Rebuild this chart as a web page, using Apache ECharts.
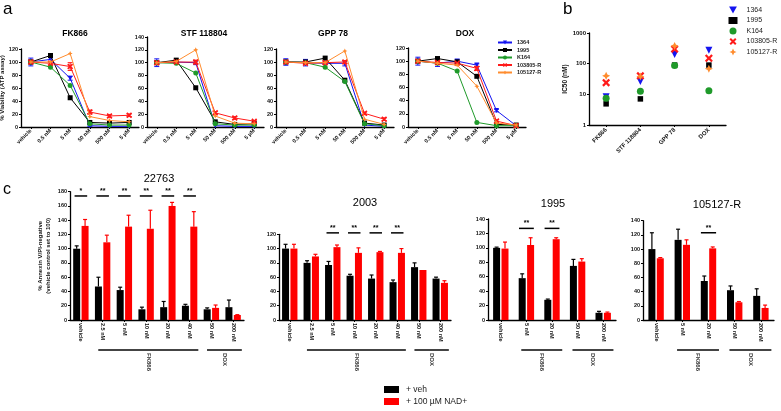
<!DOCTYPE html>
<html><head><meta charset="utf-8">
<script src="https://cdn.jsdelivr.net/npm/echarts@6/dist/echarts.min.js"></script>
<style>html,body{margin:0;padding:0;background:#fff}#c{width:781px;height:411px}</style>
</head><body><div id="c"></div>
<script>
// ---------- Panel a : viability curves ----------
const aCats = ['vehicle','0.5 nM','5 nM','50 nM','500 nM','5 µM'];
const cellLines = ['1364','1995','K164','103805-R','105127-R'];
const fk866_1364 = [100,104,75,2,1,1];
const fk866_1995 = [100,110,45,7,6,7];
const fk866_K164 = [100,92,64,5,3,3];
const fk866_103805 = [100,98,93,23,17,18];
const fk866_105127 = [100,100,113,16,10,8];
const stf_1364 = [100,101,100,2,1,1];
const stf_1995 = [100,104,61,8,4,5];
const stf_K164 = [100,99,84,5,3,3];
const stf_103805 = [100,101,101,22,14,9];
const stf_105127 = [100,102,120,17,6,5];
const gpp_1364 = [100,99,98,98,3,1];
const gpp_1995 = [100,100,106,72,6,3];
const gpp_K164 = [100,99,92,70,5,2];
const gpp_103805 = [100,98,99,100,21,12];
const gpp_105127 = [100,99,99,117,12,4];
const dox_1364 = [100,97,100,94,25,2];
const dox_1995 = [100,104,99,77,4,3];
const dox_K164 = [100,97,85,7,2,2];
const dox_103805 = [100,98,97,89,9,2];
const dox_105127 = [100,97,94,62,6,3];
// error (SD) for the blue and red lines
const fk866_err1364 = [6,4,3,1,0,0];
const fk866_err103805 = [3,3,6,3,2,2];
const stf_err1364 = [6,2,3,0,0,0];
const stf_err103805 = [2,2,3,2,2,1];
const gpp_err1364 = [5,5,2,4,0,0];
const gpp_err103805 = [2,2,2,2,2,2];
const dox_err1364 = [6,5,3,2,2,0];
const dox_err103805 = [2,2,2,3,2,1];

// ---------- Panel b : IC50 ----------
const bDrugs = ['FK866','STF 118804','GPP 78','DOX'];
const ic50_1364 = [8.4,26,200,275];
const ic50_1995 = [4.9,7.1,90,90];
const ic50_K164 = [7.5,12.7,87,13];
const ic50_103805 = [24,40,300,150];
const ic50_105127 = [40,38,380,68];

// ---------- Panel c : Annexin V/PI ----------
const c8Cats = ['vehicle','2.5 nM','5 nM','10 nM','20 nM','40 nM','50 nM','200 nM'];
const c5Cats = ['vehicle','5 nM','20 nM','50 nM','200 nM'];
const c22763_veh = [100,47,42,15,18,20,15,18];
const c22763_vehErr = [4,13,4,3,8,2,2,10];
const c22763_nad = [132,109,131,128,160,131,17,7];
const c22763_nadErr = [9,10,16,26,5,21,4,0.5];
const c2003_veh = [100,80,77,62,58,53,74,58];
const c2003_vehErr = [6,3,5,2,5,3,6,2];
const c2003_nad = [100,89,102,94,95,94,70,52];
const c2003_nadErr = [6,3,3,7,1,6,0,3];
const c1995_veh = [100,58,28,75,10];
const c1995_vehErr = [1,6,1,9,2];
const c1995_nad = [99,104,112,81,10];
const c1995_nadErr = [9,10,2,4,1];
const c105127_veh = [100,113,55,42,34];
const c105127_vehErr = [23,15,7,6,10];
const c105127_nad = [87,106,101,25,17];
const c105127_nadErr = [1,7,2,1,4];
// significance marks (category index, label)
const sig22763 = [[0,'*'],[1,'**'],[2,'**'],[3,'**'],[4,'**'],[5,'**']];
const sig2003 = [[2,'**'],[3,'**'],[4,'**'],[5,'**']];
const sig1995 = [[1,'**'],[2,'**']];
const sig105127 = [[2,'**']];
// treatment groups (label, first category, last category)
const groups8 = [['FK866',1,5],['DOX',6,7]];
const groups5 = [['FK866',1,2],['DOX',3,4]];
const barNames = ['+ veh','+ 100 µM NAD+'];

// ---------- styling ----------
const FONT = 'Liberation Sans, Arial, sans-serif';
const colors = ['#1414f0','#000000','#1f9a2a','#ff1a1a','#ff8c2e'];
const symbols = ['path://M0,0L10,0L5,9Z','rect','circle',
  'path://M0,2L2,0L5,3L8,0L10,2L7,5L10,8L8,10L5,7L2,10L0,8L3,5Z',
  'path://M5,0L6.6,3.4L10,5L6.6,6.6L5,10L3.4,6.6L0,5L3.4,3.4Z'];
const bSizes = [7,5.5,7,8,8];
const axLine = {show:true, onZero:false, lineStyle:{color:'#000', width:1.3}};
const lbl = (sz, extra) => Object.assign({color:'#111', fontSize:sz, fontWeight:'bold', fontFamily:FONT}, extra||{});

const grids = [], xAxes = [], yAxes = [], series = [];

// panel a
const aGridPos = [
  {left:21, top:49, width:118, height:78},
  {left:147, top:37, width:117, height:90},
  {left:276, top:49, width:118, height:78},
  {left:408, top:48, width:118, height:79}];
const aMax = [120,140,120,120];
const aSets = [
  [fk866_1364, fk866_1995, fk866_K164, fk866_103805, fk866_105127],
  [stf_1364, stf_1995, stf_K164, stf_103805, stf_105127],
  [gpp_1364, gpp_1995, gpp_K164, gpp_103805, gpp_105127],
  [dox_1364, dox_1995, dox_K164, dox_103805, dox_105127]];
const aErrs = [
  [fk866_err1364, fk866_err103805],[stf_err1364, stf_err103805],
  [gpp_err1364, gpp_err103805],[dox_err1364, dox_err103805]];

function symErr(gi, vals, errs, color){
  return {type:'custom', xAxisIndex:gi, yAxisIndex:gi, silent:true, clip:false, z:3,
    data: vals.map((v,i)=>[i, v-errs[i], v+errs[i]]),
    renderItem:(p, api)=>{
      if (api.value(2)-api.value(1) < 0.5) return null;
      const lo = api.coord([api.value(0), api.value(1)]);
      const hi = api.coord([api.value(0), api.value(2)]);
      const x = lo[0];
      const st = {stroke:color, lineWidth:1};
      return {type:'group', children:[
        {type:'line', shape:{x1:x,y1:lo[1],x2:x,y2:hi[1]}, style:st},
        {type:'line', shape:{x1:x-2.5,y1:lo[1],x2:x+2.5,y2:lo[1]}, style:st},
        {type:'line', shape:{x1:x-2.5,y1:hi[1],x2:x+2.5,y2:hi[1]}, style:st}]};
    }};
}

aGridPos.forEach((g, gi) => {
  grids.push(Object.assign({outerBoundsMode:'none', containLabel:false}, g));
  xAxes.push({type:'category', gridIndex:gi, data:aCats, boundaryGap:true,
    axisLine:axLine, axisTick:{show:true, alignWithLabel:true, length:2, lineStyle:{color:'#000'}},
    axisLabel:lbl(5.5, {rotate:45, interval:0, margin:3})});
  yAxes.push({type:'value', gridIndex:gi, min:0, max:aMax[gi], interval:20,
    splitLine:{show:false}, axisLine:axLine, axisTick:{show:true, length:2, lineStyle:{color:'#000'}},
    axisLabel:lbl(5.5, {margin:3}),
    name: gi===0 ? '% Viability (ATP assay)' : '', nameLocation:'middle', nameGap:13,
    nameTextStyle:lbl(6)});
  aSets[gi].forEach((d, k) => {
    series.push({type:'line', name:cellLines[k], xAxisIndex:gi, yAxisIndex:gi, data:d,
      color:colors[k], symbol:symbols[k], symbolSize: k===3 ? 6 : 5,
      lineStyle:{width:1, color:colors[k]}, itemStyle:{color:colors[k]}, z:2+k, animation:false});
  });
  series.push(symErr(gi, aSets[gi][0], aErrs[gi][0], colors[0]));
  series.push(symErr(gi, aSets[gi][3], aErrs[gi][1], colors[3]));
});

// panel b
const bGi = 4;
grids.push({left:589, top:33, width:137, height:92, outerBoundsMode:'none', containLabel:false});
xAxes.push({type:'category', gridIndex:bGi, data:bDrugs, boundaryGap:true, axisLine:axLine,
  axisTick:{show:true, alignWithLabel:true, length:2, lineStyle:{color:'#000'}},
  axisLabel:lbl(6, {rotate:45, interval:0, margin:4})});
yAxes.push({type:'log', logBase:10, gridIndex:bGi, min:1, max:1000, splitLine:{show:false},
  axisLine:axLine, axisTick:{show:true, length:2, lineStyle:{color:'#000'}},
  minorTick:{show:false}, axisLabel:lbl(6, {margin:3, formatter:v=>String(Math.round(v))}),
  name:'IC50 (nM)', nameLocation:'middle', nameGap:19, nameTextStyle:lbl(6.5)});
[ic50_1364, ic50_1995, ic50_K164, ic50_103805, ic50_105127].forEach((d,k) => {
  series.push({type:'scatter', name:cellLines[k]+' ', xAxisIndex:bGi, yAxisIndex:bGi, data:d,
    symbol:symbols[k], symbolSize:bSizes[k], itemStyle:{color:colors[k], opacity:1}, color:colors[k], z:2+k, animation:false});
});

// panel c
const cGridPos = [
  {left:70, top:191.7, width:174, height:128.3},
  {left:279, top:234.3, width:172, height:85.7},
  {left:488, top:219, width:128, height:101},
  {left:643, top:220.7, width:131, height:99.3}];
const cMax = [180,120,140,140];
const cCats = [c8Cats, c8Cats, c5Cats, c5Cats];
const cVeh = [c22763_veh, c2003_veh, c1995_veh, c105127_veh];
const cVehErr = [c22763_vehErr, c2003_vehErr, c1995_vehErr, c105127_vehErr];
const cNad = [c22763_nad, c2003_nad, c1995_nad, c105127_nad];
const cNadErr = [c22763_nadErr, c2003_nadErr, c1995_nadErr, c105127_nadErr];
const cSig = [sig22763, sig2003, sig1995, sig105127];
const cSigLevel = [174, 122, 127, 123];
const cGroups = [groups8, groups8, groups5, groups5];

function barErr(gi, vals, errs, color, dx){
  return {type:'custom', xAxisIndex:gi, yAxisIndex:gi, silent:true, clip:false, z:1,
    data: vals.map((v,i)=>[i, v, v+errs[i]]),
    renderItem:(p, api)=>{
      if (api.value(2)-api.value(1) < 0.3) return null;
      const b = api.coord([api.value(0), api.value(1)]);
      const t = api.coord([api.value(0), api.value(2)]);
      const x = b[0]+dx;
      const st = {stroke:color, lineWidth:1.2};
      return {type:'group', children:[
        {type:'line', shape:{x1:x,y1:b[1],x2:x,y2:t[1]}, style:st},
        {type:'line', shape:{x1:x-2,y1:t[1],x2:x+2,y2:t[1]}, style:st}]};
    }};
}
function sigSeries(gi, sig, level){
  return {type:'custom', xAxisIndex:gi, yAxisIndex:gi, silent:true, clip:false, z:5,
    data: sig.map(s=>[s[0], level]),
    renderItem:(p, api)=>{
      const pt = api.coord([api.value(0), api.value(1)]);
      const hw = api.size([1,0])[0]*0.29;
      return {type:'group', children:[
        {type:'line', shape:{x1:pt[0]-hw,y1:pt[1],x2:pt[0]+hw,y2:pt[1]}, style:{stroke:'#000', lineWidth:1.5}},
        {type:'text', x:pt[0], y:pt[1]-1.5, style:{text:sig[p.dataIndex][1], fill:'#000',
          font:'bold 7px '+FONT, align:'center', verticalAlign:'bottom', textAlign:'center', textVerticalAlign:'bottom'}}]};
    }};
}
function groupSeries(gi, grp){
  return {type:'custom', xAxisIndex:gi, yAxisIndex:gi, silent:true, clip:false, z:5,
    data: grp.map(g=>[g[1], g[2]]),
    renderItem:(p, api)=>{
      const a = api.coord([api.value(0), 0]);
      const b = api.coord([api.value(1), 0]);
      const bw = api.size([1,0])[0];
      const x1 = a[0]-bw*0.2, x2 = b[0]+bw*0.4, y = a[1]+30;
      return {type:'group', children:[
        {type:'line', shape:{x1:x1,y1:y,x2:x2,y2:y}, style:{stroke:'#444', lineWidth:2}},
        {type:'text', x:(x1+x2)/2, y:y+3, rotation:-Math.PI/2,
          style:{text:grp[p.dataIndex][0], fill:'#333', font:'bold 6px '+FONT,
          align:'left', verticalAlign:'middle', textAlign:'left', textVerticalAlign:'middle'}}]};
    }};
}

cGridPos.forEach((g, j) => {
  const gi = 5+j;
  grids.push(Object.assign({outerBoundsMode:'none', containLabel:false}, g));
  xAxes.push({type:'category', gridIndex:gi, data:cCats[j], boundaryGap:true, axisLine:axLine,
    axisTick:{show:true, alignWithLabel:true, length:2, lineStyle:{color:'#000'}},
    axisLabel:lbl(5.5, {rotate:-90, interval:0, margin:3})});
  yAxes.push({type:'value', gridIndex:gi, min:0, max:cMax[j], interval:20, splitLine:{show:false},
    axisLine:axLine, axisTick:{show:true, length:2, lineStyle:{color:'#000'}},
    axisLabel:lbl(5.5, {margin:3}),
    name: j===0 ? '% Annexin V/PI-negative\n(vehicle control set to 100)' : '',
    nameLocation:'middle', nameGap:18, nameTextStyle:lbl(6, {lineHeight:8})});
  series.push({type:'bar', name:barNames[0], xAxisIndex:gi, yAxisIndex:gi, data:cVeh[j],
    barWidth:7, barGap:'20%', itemStyle:{color:'#000'}, color:'#000', z:2, animation:false});
  series.push({type:'bar', name:barNames[1], xAxisIndex:gi, yAxisIndex:gi, data:cNad[j],
    barWidth:7, barGap:'20%', itemStyle:{color:'#ff0000'}, color:'#ff0000', z:2, animation:false});
  series.push(barErr(gi, cVeh[j], cVehErr[j], '#000', -4.2));
  series.push(barErr(gi, cNad[j], cNadErr[j], '#ff0000', 4.2));
  series.push(sigSeries(gi, cSig[j], cSigLevel[j]));
  series.push(groupSeries(gi, cGroups[j]));
});

function txt(t, x, y, size, weight, align){
  return {type:'text', x:x, y:y, silent:true,
    style:{text:t, fill:'#000', font:(weight||'normal')+' '+size+'px '+FONT,
      align:align||'left', textAlign:align||'left', verticalAlign:'top', textVerticalAlign:'top'}};
}

const option = {
  animation:false,
  textStyle:{fontFamily:FONT},
  grid:grids, xAxis:xAxes, yAxis:yAxes, series:series,
  legend:[
    {data:cellLines, orient:'vertical', left:497, top:39.5, padding:0, itemGap:1.5, itemWidth:14, itemHeight:5,
     textStyle:lbl(5.5, {color:'#222'}), selectedMode:false},
    {data:cellLines.map(n=>n+' '), orient:'vertical', left:728.5, top:6.5, padding:0, itemGap:3.5, itemWidth:9, itemHeight:7,
     textStyle:lbl(7, {fontWeight:'normal', color:'#222', padding:[0,0,0,4]}), selectedMode:false},
    {data:barNames, orient:'vertical', left:384, top:385, padding:0, itemGap:3, itemWidth:15, itemHeight:7, icon:'rect',
     textStyle:{fontSize:8.5, color:'#222', fontFamily:FONT, padding:[0,0,0,2]}, selectedMode:false}
  ],
  graphic:[
    txt('a', 3, 1, 17),
    txt('b', 563, 1, 17),
    txt('c', 3, 182, 16),
    txt('FK866', 75, 29, 8.5, 'bold', 'center'),
    txt('STF 118804', 204, 29, 8.5, 'bold', 'center'),
    txt('GPP 78', 333, 29, 8.5, 'bold', 'center'),
    txt('DOX', 465, 29, 8.5, 'bold', 'center'),
    txt('22763', 159, 173, 11, 'normal', 'center'),
    txt('2003', 365, 197, 11, 'normal', 'center'),
    txt('1995', 553, 198, 11, 'normal', 'center'),
    txt('105127-R', 717, 199, 11, 'normal', 'center')
  ]
};
const chart = echarts.init(document.getElementById('c'), null, {renderer:'canvas'});
chart.setOption(option);
</script></body></html>
